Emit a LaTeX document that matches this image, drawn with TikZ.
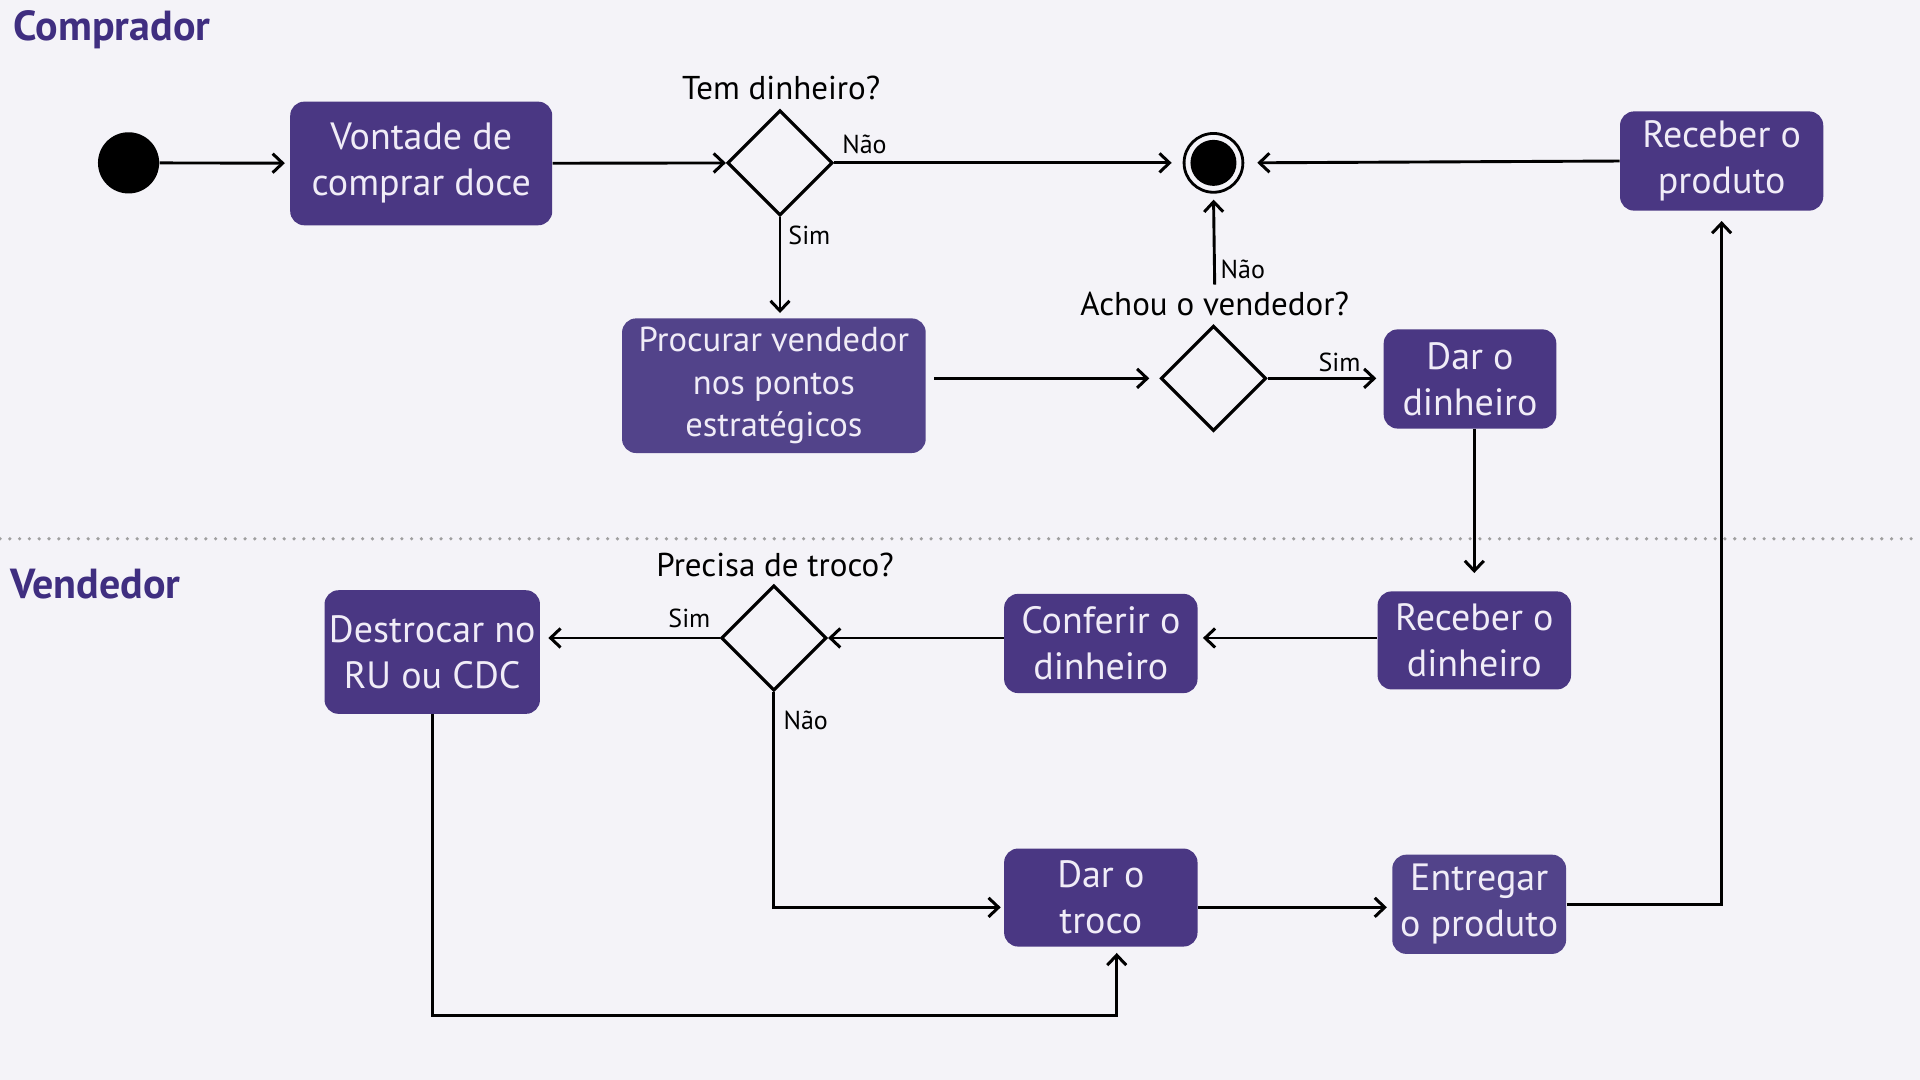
\documentclass[tikz,border=0pt]{standalone}
\usepackage{fontspec}
\setmainfont{PT Sans}
\usetikzlibrary{shapes.geometric,arrows.meta}
\definecolor{bgc}{HTML}{F4F3F8}
\definecolor{boxc}{HTML}{4A3783}
\definecolor{boxl}{HTML}{52438A}
\definecolor{boxtext}{HTML}{F0ECF7}
\definecolor{titlec}{HTML}{3F2E80}
\begin{document}
\begin{tikzpicture}[x=0.6122pt,y=-0.6122pt,
  act/.style={rounded corners=7pt, fill=boxc, text=boxtext, align=center, inner sep=0pt,
    font=\fontsize{19}{23}\selectfont},
  dec/.style={diamond, draw=black, line width=1.6pt, minimum width=52.6pt, minimum height=52.6pt, inner sep=0pt, aspect=1},
  lab/.style={font=\fontsize{16.5}{19}\selectfont},
  sm/.style={font=\fontsize{13}{15}\selectfont},
  ttl/.style={font=\fontsize{21}{24}\selectfont\bfseries, text=titlec, anchor=west, inner sep=0pt},
  flow/.style={-{Straight Barb[length=5pt,width=9.5pt,line width=1.5pt]}, line width=1.45pt}]
\fill[bgc] (0,0) rectangle (1568,882);
\useasboundingbox (0,0) rectangle (1568,882);
\draw[gray!75, line width=1.8pt, dash pattern=on 0pt off 4.9pt, line cap=round] (0,440) -- (1568,440);
\node[ttl] (tcomp) at (11,24) {Comprador};
\node[ttl] (tvend) at (8,477) {Vendedor};
% nodes
\node[circle, fill=black, minimum size=30.6pt, inner sep=0pt] (start) at (105,133) {};
\node[act, minimum width=131pt, minimum height=61.8pt] (vontade) at (344,133.5) {Vontade de\\comprar doce};
\node[dec] (d1) at (637,133) {};
\node[lab] (q1) at (638,72) {Tem dinheiro?};
\node[circle, draw=black, line width=1.4pt, fill=bgc, minimum size=29.4pt, inner sep=0pt] (end) at (991,133) {};
\node[circle, fill=black, minimum size=23pt, inner sep=0pt] (endin) at (991,133) {};
\node[act, minimum width=101.6pt, minimum height=49.6pt] (recprod) at (1406,131.5) {Receber o\\produto};
\node[act, fill=boxl, minimum width=151.8pt, minimum height=67.3pt, font=\fontsize{17.3}{21.2}\selectfont] (procurar) at (632,315) {Procurar vendedor\\nos pontos\\estratégicos};
\node[dec] (d2) at (991,309) {};
\node[lab] (q2) at (992,248) {Achou o vendedor?};
\node[act, minimum width=86.3pt, minimum height=49.6pt] (dardin) at (1200.5,309.5) {Dar o\\dinheiro};
\node[act, minimum width=96.7pt, minimum height=49pt] (recdin) at (1204,523) {Receber o\\dinheiro};
\node[act, minimum width=96.7pt, minimum height=49.6pt] (conferir) at (899,525.5) {Conferir o\\dinheiro};
\node[dec] (d3) at (632,521) {};
\node[lab] (q3) at (633,461) {Precisa de troco?};
\node[act, minimum width=107.7pt, minimum height=61.8pt] (destrocar) at (353,532.5) {Destrocar no\\RU ou CDC};
\node[act, minimum width=96.7pt, minimum height=49pt] (dartroco) at (899,733) {Dar o\\troco};
\node[act, fill=boxl, minimum width=86.9pt, minimum height=49.6pt] (entregar) at (1208,738.5) {Entregar\\o produto};
% labels
\node[sm] (l1) at (706,118) {Não};
\node[sm] (l2) at (661,192) {Sim};
\node[sm] (l3) at (1015,220) {Não};
\node[sm] (l4) at (1094,296) {Sim};
\node[sm] (l5) at (563,505) {Sim};
\node[sm] (l6) at (658,588) {Não};
\coordinate (c1) at (632,741);
\coordinate (c3) at (912,829);
% connectors
\draw[flow, shorten >=2.5pt] (start) -- (vontade);
\draw[flow] (vontade) -- (d1);
\draw[flow, shorten >=5.5pt] (d1) -- (end);
\draw[flow, shorten >=6.5pt] (recprod.west) -- (end.east);
\draw[flow, shorten >=2.5pt] (d1.south) -- (d1.south |- procurar.north);
\draw[flow, shorten <=4pt, shorten >=5pt] (procurar.east |- d2) -- (d2.west);
\draw[flow, shorten >=3.5pt] (d2) -- (dardin.west |- d2);
\draw[flow, shorten >=3pt] (q2.north) -- (end.south);
\draw[flow, shorten >=9pt] (recdin.north |- dardin.south) -- (recdin.north);
\draw[flow, shorten >=2.5pt] (recdin.west |- 0,521) -- (conferir.east |- 0,521);
\draw[flow] (conferir.west |- d3) -- (d3.east);
\draw[flow, shorten >=4pt] (d3) -- (destrocar.east |- d3);
\draw[flow, shorten >=1.5pt] (d3.south) -- (c1) -- (dartroco.west |- c1);
\draw[flow, shorten >=3pt] (destrocar.south) |- (c3) -- (c3 |- dartroco.south);
\draw[flow, shorten >=2.5pt] (dartroco.east |- c1) -- (entregar.west |- c1);
\draw[flow, shorten >=5pt] (entregar.east) -| (recprod.south);
\end{tikzpicture}
\end{document}
